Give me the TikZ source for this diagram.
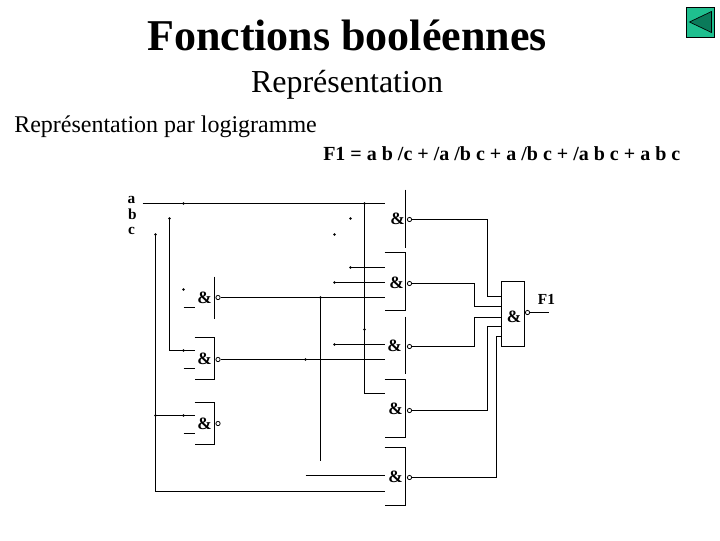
\documentclass[tikz,border=0pt]{standalone}
\usepackage{fontspec}
\setmainfont{Liberation Serif}
\definecolor{buttonface}{HTML}{1FBF8F}
\definecolor{buttonarrow}{HTML}{0B7A5A}
\tikzset{
	wire/.style={line width=0.9pt},
	gatesign/.style={font=\bfseries\fontsize{13}{14}\selectfont,inner sep=0pt},
	inputname/.style={font=\bfseries\fontsize{11.5}{12}\selectfont,inner sep=0pt},
	bubble/.style={circle,draw,fill=white,line width=0.6pt,minimum size=3.2pt,inner sep=0pt},
	junction/.style={circle,fill=black,minimum size=2.2pt,inner sep=0pt},
}

\begin{document}
\begin{tikzpicture}[x=0.75pt,y=-0.75pt]
	\useasboundingbox (-0.5,-0.5) rectangle (719.5,539.5);

	% titles
	\node (title) at (346.5,35) [inner sep=0pt,font=\bfseries\fontsize{33}{36}\selectfont] {Fonctions booléennes};
	\node (subtitle) at (346.5,84) [inner sep=0pt,font=\fontsize{24}{26}\selectfont] {Représentation};
	\node (heading) at (13.5,126) [anchor=west,inner sep=0pt,font=\fontsize{18}{20}\selectfont] {Représentation par logigramme};
	\node (equation) at (322.5,153) [anchor=west,inner sep=0pt,font=\bfseries\fontsize{15}{16}\selectfont] {F1 = a b /c + /a /b c + a /b c + /a b c + a b c};

	% back button
	\draw[fill=buttonface,line width=0.75pt] (686,7) rectangle (714,37);
	\draw[fill=buttonarrow,line width=0.5pt] (689,21.5) -- (711,11) -- (711,32) -- cycle;

	% inputs
	\node[inputname] (a) at (131,199) {a};
	\node[inputname] (b) at (132,214) {b};
	\node[inputname] (c) at (131,230) {c};

	% left gates
	\foreach \gate/\ytop/\ybot/\ysign/\yout in {g1/276/318/297/297, g2/337/379/358/359, g3/402/444/423/423} {
		\node[gatesign] (\gate) at (204,\ysign) {\&};
		\coordinate (\gate top) at (214,\ytop);
		\coordinate (\gate bot) at (214,\ybot);
		\node[bubble] (\gate out) at (217.5,\yout) {};
	}
	\draw[wire] (g1top) -- (g1bot);
	\draw[wire] (194,337) -- (g2top) -- (g2bot) -- (194,379);
	\draw[wire] (194,402) -- (g3top) -- (g3bot) -- (194,444);

	% middle gates
	\foreach \gate/\ytop/\ybot/\xsign/\ysign/\yout in {m1/189/247/397/218/219, m2/252/310/396/282/283, m3/316/373/394/345/346, m4/379/437/395/408/410, m5/447/505/395/476/477} {
		\node[gatesign] (\gate) at (\xsign,\ysign) {\&};
		\coordinate (\gate top) at (405,\ytop);
		\coordinate (\gate bot) at (405,\ybot);
		\node[bubble] (\gate out) at (409,\yout) {};
	}
	\draw[wire] (m1top) -- (m1bot);
	\draw[wire] (384,252) -- (m2top) -- (m2bot) -- (384,310);
	\draw[wire] (m3top) -- (m3bot);
	\draw[wire] (384,379) -- (m4top) -- (m4bot) -- (384,437);
	\draw[wire] (384,447) -- (m5top) -- (m5bot) -- (384,505);

	% output gate
	\draw[wire] (501,281) rectangle (524,346);
	\node[gatesign] (g6) at (513.5,316) {\&};
	\node[bubble] (g6out) at (527,312) {};
	\coordinate (f1end) at (548,312);
	\draw[wire] (g6out) -- (f1end);
	\node[inputname] (f1) at (546,299) {F1};

	% free dots
	\foreach \x/\y in {183/289, 350/218, 334/234} {
		\node[junction] at (\x,\y) {};
	}

	% a b c lines
	\draw[wire] (142,203) -- (384,203);
	\draw[wire] (364,203) -- (364,393) -- (384,393);
	\draw[wire] (169,218) -- (169,350) -- (194,350);
	\draw[wire] (155,234) -- (155,491) -- (384,491);
	\draw[wire] (155,415) -- (194,415);
	\foreach \x/\y in {183/203, 364/203, 364/329, 169/218, 155/234, 155/415, 183/415, 183/350, 320/297, 305/359, 350/267, 334/282, 334/344} {
		\node[junction] at (\x,\y) {};
	}

	% short inputs
	\draw[wire] (183,307) -- (194,307);
	\draw[wire] (183,368) -- (194,368);
	\draw[wire] (183,433) -- (194,433);
	\draw[wire] (350,267) -- (384,267);
	\draw[wire] (334,282) -- (384,282);
	\draw[wire] (334,344) -- (384,344);
	\draw[wire] (305,475) -- (384,475);

	% left gates to middle gates
	\coordinate (g1right) at (384,297);
	\coordinate (g2right) at (384,359);
	\coordinate (tail) at (320,460);
	\draw[wire] (g1out) -- (g1right);
	\draw[wire] (g2out) -- (g2right);
	\draw[wire] (320,297) -- (tail);

	% middle gates to output gate
	\draw[wire] (m1out) -| (487,296) -- (501,296);
	\draw[wire] (m2out) -| (474,306) -- (501,306);
	\draw[wire] (m3out) -| (474,317) -- (501,317);
	\draw[wire] (m4out) -| (487,326) -- (501,326);
	\draw[wire] (m5out) -| (496,336) -- (501,336);
\end{tikzpicture}
\end{document}
